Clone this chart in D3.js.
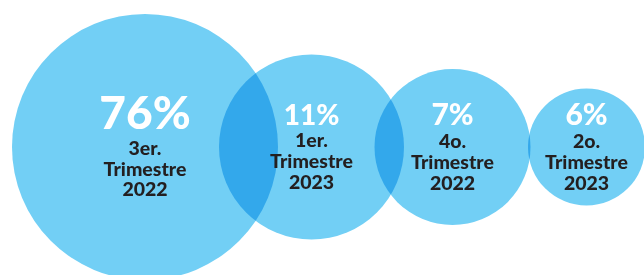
<!DOCTYPE html>
<html>
<head>
<meta charset="utf-8">
<script src="https://cdn.jsdelivr.net/npm/d3@7"></script>
<style>
  html, body { margin: 0; padding: 0; background: #fff; }
  svg { display: block; }
  text { font-family: Lato, "Open Sans", sans-serif; font-weight: 900; }
</style>
</head>
<body>
<div id="chart"></div>
<script>
// data
const periods = ["3er. Trimestre 2022", "1er. Trimestre 2023", "4o. Trimestre 2022", "2o. Trimestre 2023"];
const shares = [76, 11, 7, 6];
const labelLines = [
  ["3er.", "Trimestre", "2022"],
  ["1er.", "Trimestre", "2023"],
  ["4o.", "Trimestre", "2022"],
  ["2o.", "Trimestre", "2023"]
];

const width = 644, height = 275;
const cy = 147;

// layout scales (bubbles are not sized proportionally in the original)
let xscale = d3.scaleOrdinal().domain(periods).range([145, 311.5, 452.5, 586.5]);
let rscale = d3.scaleOrdinal().domain(periods).range([133, 92.5, 78, 58.5]);
let pctSize = d3.scaleOrdinal().domain(periods).range([46, 28, 30, 30]);

const data = periods.map((p, i) => ({period: p, value: shares[i], lines: labelLines[i]}));

let svg = d3.select("#chart").append("svg")
    .attr("width", width)
    .attr("height", height);

svg.append("g").attr("id", "bubbles")
  .selectAll("circle")
  .data(data)
  .enter()
  .append("circle")
    .attr("cx", d => xscale(d.period))
    .attr("cy", cy)
    .attr("r", d => rscale(d.period))
    .style("fill", "#72cff5")
    .style("mix-blend-mode", "multiply");

let labels = svg.append("g").attr("id", "labels")
  .selectAll("g")
  .data(data)
  .enter()
  .append("g")
    .attr("transform", d => `translate(${xscale(d.period)}, ${cy})`);

labels.each(function(d) {
    let g = d3.select(this);
    let ps = pctSize(d.period);
    let firstLine = 1 + (ps - 30) * 0.42;
    g.append("text")
        .attr("text-anchor", "middle")
        .attr("y", firstLine - (ps * 0.22 + 16))
        .style("font-size", ps + "px")
        .style("fill", "#ffffff")
        .text(d.value + "%");
    g.selectAll("text.line")
      .data(d.lines)
      .enter()
      .append("text")
        .attr("class", "line")
        .attr("text-anchor", "middle")
        .attr("y", (t, i) => firstLine + i * 20.8)
        .style("font-size", "19.5px")
        .style("fill", "#231f20")
        .text(t => t);
});
</script>
</body>
</html>
